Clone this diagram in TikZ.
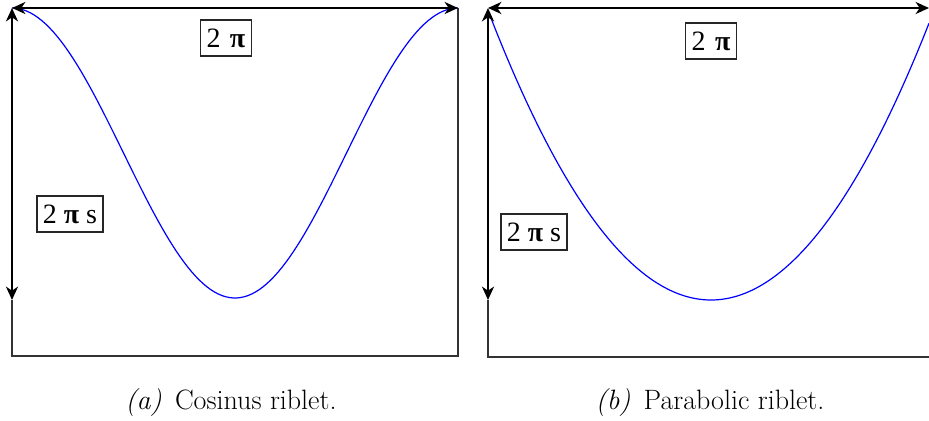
\documentclass[tikz,border=0pt]{standalone}
\usepackage{fontspec}
\newfontfamily\tnr{Liberation Serif}
\usetikzlibrary{arrows.meta}
\begin{document}
\begin{tikzpicture}[x=0.75pt,y=-0.75pt,
  dim/.style={line width=2.2pt,{Stealth[length=10pt,width=9pt,inset=3pt]}-{Stealth[length=10pt,width=9pt,inset=3pt]}},
  frame/.style={line width=1.1pt, black!80},
  lab/.style={draw, line width=1.1pt, black!85, text=black, font=\tnr\fontsize{21}{24}\selectfont, inner xsep=4.5pt, inner ysep=3.5pt, minimum height=27pt},
  captext/.style={font=\fontsize{21}{25}\selectfont},
  curve/.style={blue, line width=0.9pt}]
\useasboundingbox (0,0) rectangle (929,421);
% left panel
\coordinate (aTL) at (12,8);
\coordinate (aTR) at (458,8);
\coordinate (aBL) at (12,356);
\coordinate (aBR) at (458,356);
\coordinate (aML) at (12,300);
\draw[frame] (aML) -- (aBL) -- (aBR) -- (aTR);
\draw[curve] plot[domain=12:458, samples=120] ({\x},{8+145*(1-cos(0.80717*(\x-12)))});
\draw[dim] (aTL) -- (aTR);
\draw[dim] (aTL) -- (aML);
\node[lab] (a2pi) at (226,38) {2\,\,\textbf{π}};
\node[lab] (a2pis) at (70,214) {2 \textbf{π} s};
\node[captext] (capa) at (231,403) {\textit{(a)}\, Cosinus riblet.};
% right panel
\coordinate (bTL) at (488,8);
\coordinate (bTR) at (929,8);
\coordinate (bBL) at (488,357);
\coordinate (bBR) at (929,357);
\coordinate (bML) at (488,300);
\draw[frame] (bML) -- (bBL) -- (bBR);
\draw[curve] plot[domain=489:929, samples=120] ({\x},{300-287*((\x-711)/222)^2});
\draw[dim] (bTL) -- (bTR);
\draw[dim] (bTL) -- (bML);
\node[lab] (b2pi) at (711,41) {2\,\,\textbf{π}};
\node[lab] (b2pis) at (534,232) {2 \textbf{π} s};
\node[captext] (capb) at (710,403) {\textit{(b)}\, Parabolic riblet.};
\end{tikzpicture}
\end{document}
